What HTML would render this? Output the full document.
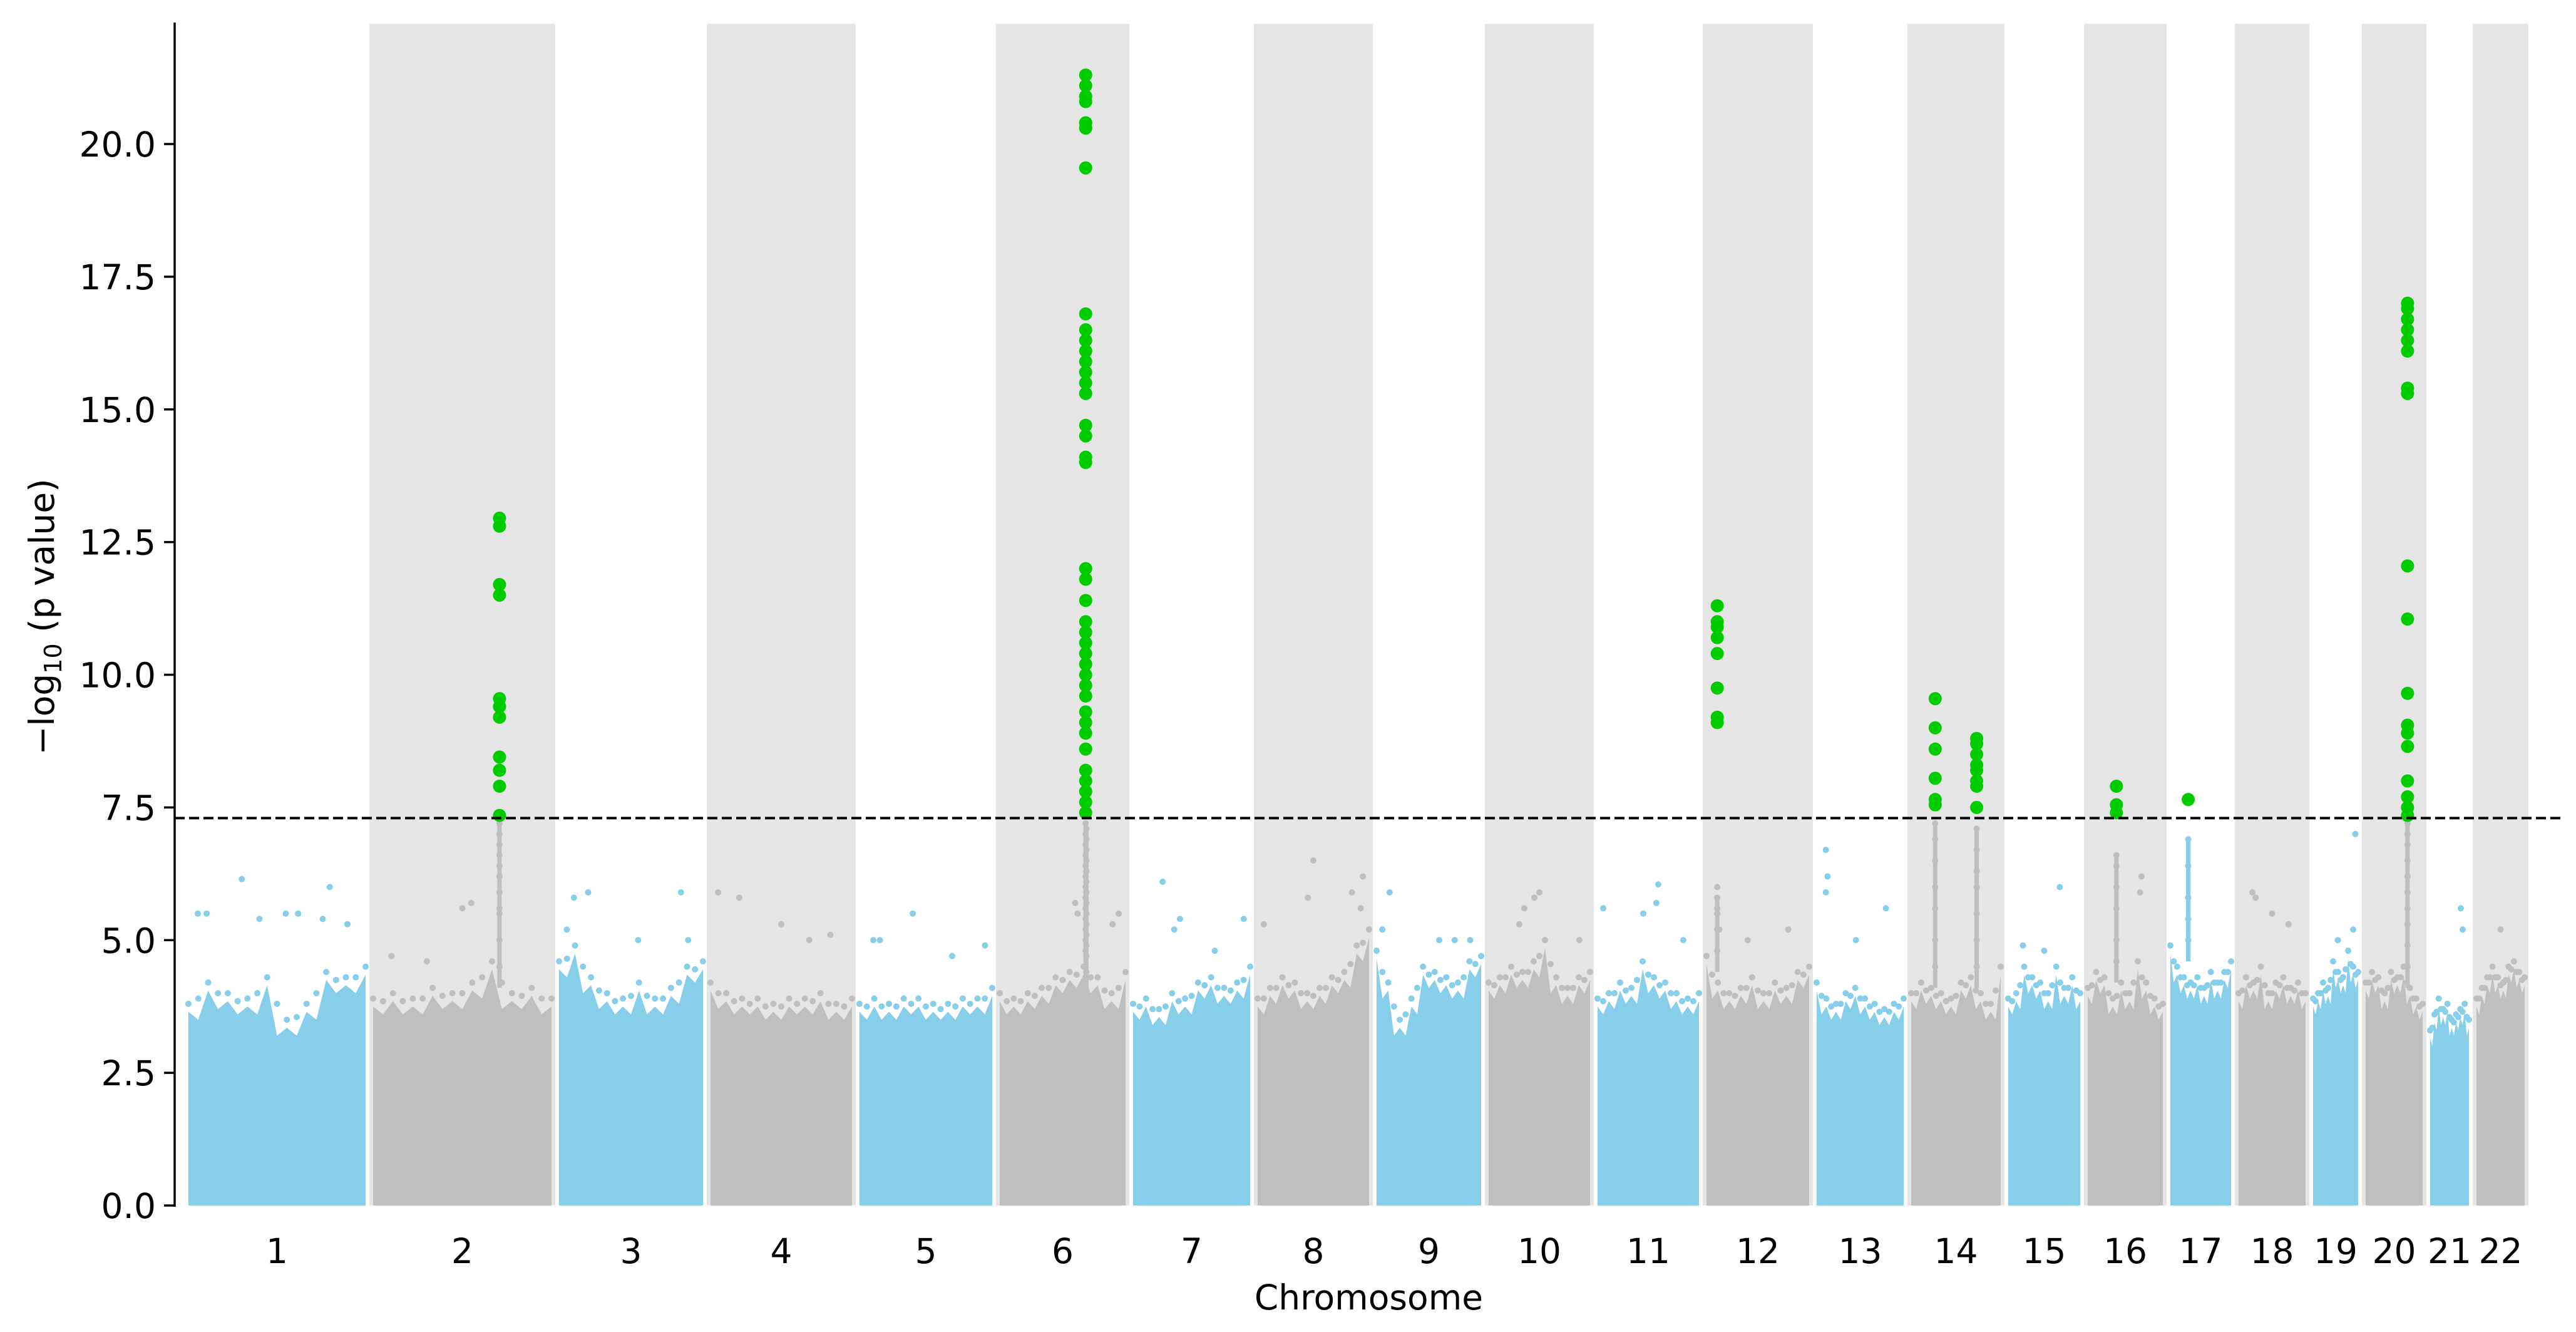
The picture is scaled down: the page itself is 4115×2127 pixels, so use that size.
<!DOCTYPE html>
<html><head><meta charset="utf-8"><style>
html,body{margin:0;padding:0;background:#fff;}
svg{display:block;font-family:"DejaVu Sans","Liberation Sans",sans-serif;}
</style></head><body>
<svg id="chart" width="4115" height="2127" viewBox="0 0 4115 2127" xmlns="http://www.w3.org/2000/svg">
<g id="bands"></g>
<g id="bulk"></g>
<g id="sig"></g>
<g id="axes"></g>
</svg>
<script>
const chroms=['1','2','3','4','5','6','7','8','9','10','11','12','13','14','15','16','17','18','19','20','21','22'];
const chromLengths=[295,297,242,238,224,213,199,190,179,174,174,176,151,155,127,132,109,119,84,103,74,89];
const envelopes=[
[3.8,4.2,4.0,3.9,4.3,3.5,3.8,4.4,4.3,4.5],[3.9,4.0,3.9,4.1,4.0,4.2,4.6,4.0,4.1,3.9],
[4.6,4.9,4.3,4.0,3.9,4.2,3.9,4.1,4.5,4.6],[4.2,4.0,3.9,3.9,3.8,3.9,3.9,4.0,3.8,3.9],
[3.8,3.9,3.8,3.9,3.9,3.8,3.8,3.9,3.9,4.1],[4.0,3.9,4.0,4.1,4.3,4.4,4.5,4.3,4.0,4.4],
[3.8,3.9,3.7,4.0,3.9,4.2,4.3,4.1,4.2,4.5],[3.9,4.1,4.3,4.2,4.0,4.1,4.3,4.4,4.9,5.2],
[4.8,4.2,3.5,3.9,4.5,4.4,4.3,4.2,4.6,4.7],[4.2,4.3,4.5,4.4,4.6,5.0,4.3,4.1,4.3,4.4],
[3.9,4.0,4.2,4.1,4.6,4.3,4.2,4.0,3.9,4.0],[4.7,4.2,4.0,4.1,4.3,4.0,4.2,4.1,4.4,4.5],
[4.2,3.9,3.8,4.0,4.1,3.9,3.8,3.7,3.8,3.9],[4.0,4.2,4.1,4.0,3.9,4.2,4.3,4.0,3.8,4.5],
[3.9,4.0,4.5,4.3,4.2,4.0,4.5,4.1,4.3,4.0],[4.1,4.4,4.3,3.9,4.2,4.0,4.6,4.2,3.9,3.8],
[4.9,4.5,4.3,4.2,4.3,4.1,4.4,4.2,4.4,4.6],[4.0,4.3,4.2,4.5,4.0,4.2,4.3,4.1,4.2,4.0],
[3.9,4.0,4.2,4.1,4.6,4.4,4.3,4.8,4.5,4.4],[4.2,4.4,4.3,4.0,4.4,4.3,4.5,4.1,3.9,3.8],
[3.3,3.6,3.9,3.7,3.8,3.5,3.6,3.7,3.8,3.5],[3.9,4.1,4.3,4.5,4.3,4.2,4.5,4.6,4.4,4.3]];
const outliers=[
[0,0.30,6.15],[0,0.05,5.5],[0,0.10,5.5],[0,0.40,5.4],[0,0.55,5.5],[0,0.62,5.5],[0,0.80,6.0],[0,0.76,5.4],[0,0.90,5.3],
[1,0.10,4.7],[1,0.30,4.6],[1,0.50,5.6],[1,0.55,5.7],
[2,0.05,5.2],[2,0.10,5.8],[2,0.20,5.9],[2,0.55,5.0],[2,0.85,5.9],[2,0.90,5.0],
[3,0.05,5.9],[3,0.20,5.8],[3,0.50,5.3],[3,0.70,5.0],[3,0.85,5.1],
[4,0.10,5.0],[4,0.15,5.0],[4,0.40,5.5],[4,0.70,4.7],[4,0.95,4.9],
[5,0.60,5.7],[5,0.62,5.5],[5,0.95,5.5],[5,0.90,5.3],
[6,0.25,6.1],[6,0.35,5.2],[6,0.40,5.4],[6,0.70,4.8],[6,0.95,5.4],
[7,0.05,5.3],[7,0.45,5.8],[7,0.50,6.5],[7,0.85,5.9],[7,0.95,6.2],[7,0.93,5.6],
[8,0.05,5.2],[8,0.12,5.9],[8,0.60,5.0],[8,0.75,5.0],[8,0.90,5.0],
[9,0.35,5.6],[9,0.45,5.8],[9,0.50,5.9],[9,0.30,5.3],[9,0.90,5.0],
[10,0.05,5.6],[10,0.45,5.5],[10,0.60,6.05],[10,0.58,5.7],[10,0.85,5.0],
[11,0.10,6.0],[11,0.10,5.6],[11,0.12,5.2],[11,0.40,5.0],[11,0.80,5.2],
[12,0.10,6.7],[12,0.12,6.2],[12,0.10,5.9],[12,0.45,5.0],[12,0.80,5.6],
[14,0.20,4.9],[14,0.50,4.8],[14,0.72,6.0],
[15,0.72,6.2],[15,0.70,5.9],
[17,0.20,5.9],[17,0.25,5.8],[17,0.50,5.5],[17,0.75,5.3],
[18,0.55,5.0],[18,0.95,7.0],[18,0.90,5.2],
[20,0.80,5.6],[20,0.85,5.2],[21,0.50,5.2]];
const towerChrom=[1,5,5,13,13,15,16,19,11];
const towerFrac=[0.71,0.685,0.69,0.265,0.735,0.38,0.29,0.74,0.10];
const towerVals=[
[4.5,5.0,5.5,5.6,5.9,6.2,6.4,6.6,6.8,7.0,7.2],
[4.2,4.5,4.8,5.0,5.2,5.4,5.6,5.8,6.0,6.2,6.4,6.6,6.8,7.0,7.2],
[4.4,4.7,4.9,5.1,5.3,5.5,5.7,5.9,6.1,6.3,6.5,6.7,6.9,7.1],
[4.5,5.0,5.6,6.0,6.5,6.9,7.2],
[4.5,5.0,5.5,6.0,6.3,6.7,7.1],
[4.6,5.0,5.6,6.0,6.4,6.6],
[5.0,5.4,5.8,6.4,6.9],
[4.5,4.9,5.3,5.6,5.9,6.2,6.5,6.8,7.0,7.2],
[4.8,5.2,5.5,5.8]];
const sigChrom=[1,5,11,13,13,15,16,19];
const sigFrac=[0.71,0.685,0.10,0.265,0.735,0.38,0.29,0.74];
const sigVals=[
[12.95,12.8,11.7,11.5,9.55,9.4,9.2,8.45,8.2,7.9,7.35],
[21.3,21.1,20.9,20.8,20.4,20.3,19.55,16.8,16.5,16.3,16.1,15.9,15.7,15.5,15.3,14.7,14.5,14.1,14.0,12.0,11.8,11.4,11.0,10.8,10.6,10.4,10.2,10.0,9.8,9.6,9.3,9.1,8.9,8.6,8.2,8.0,7.8,7.6,7.4],
[11.3,11.0,10.9,10.7,10.4,9.75,9.2,9.1],
[9.55,9.0,8.6,8.05,7.65,7.55],
[8.8,8.7,8.5,8.3,8.2,8.0,7.9,7.5],
[7.9,7.55,7.4],
[7.65],
[17.0,16.9,16.7,16.5,16.3,16.1,15.4,15.3,12.05,11.05,9.65,9.05,8.9,8.65,8.0,7.7,7.5,7.35]];
const yTicks=[0,2.5,5,7.5,10,12.5,15,17.5,20];
const threshold=7.3;

const NS='http://www.w3.org/2000/svg';
const X0=295,X1=4039,Y0=1925,PPU=84.75,TOP=36,AX=279;
const total=chromLengths.reduce((a,b)=>a+b,0);
const starts=[];{let c=0;for(const l of chromLengths){starts.push(c);c+=l;}}
function xs(u){return X0+u/total*(X1-X0);}
function ys(v){return Y0-v*PPU;}
function cx(ci,f){const a=xs(starts[ci]),b=xs(starts[ci]+chromLengths[ci]);return a+7+f*(b-a-14);}
function mk(tag,attrs,parent){const e=document.createElementNS(NS,tag);for(const k in attrs)e.setAttribute(k,attrs[k]);parent.appendChild(e);return e;}
const bands=document.getElementById('bands'),bulk=document.getElementById('bulk'),sig=document.getElementById('sig'),axes=document.getElementById('axes');
const BLUE='#87ceeb',GRAY='#bfbfbf';
chroms.forEach((c,i)=>{
  const a=xs(starts[i]),b=xs(starts[i]+chromLengths[i]);
  if(i%2===1){const r=mk('rect',{x:a,y:TOP+2,width:b-a,height:Y0-TOP-2,fill:'#e5e5e5'},bands);
    
    }
  const col=i%2===0?BLUE:GRAY;
  const env=envelopes[i];let pts=[];
  const L=a+6,R=b-6;
  pts.push(L+','+Y0);
  env.forEach((v,k)=>{const x=L+(k/(env.length-1))*(R-L);pts.push(x+','+ys(v-0.15));
    if(k<env.length-1){const x2=L+((k+0.5)/(env.length-1))*(R-L);pts.push(x2+','+ys(Math.min(v,env[k+1])-0.3));}});
  pts.push(R+','+Y0);
  const p=mk('polygon',{points:pts.join(' '),fill:col},bulk);
  
  
  env.forEach((v,k)=>{const x=L+(k/(env.length-1))*(R-L);
    const d=mk('circle',{cx:x,cy:ys(v),r:5,fill:col},bulk);
    
    
    if(k<env.length-1){const x2=L+((k+0.5)/(env.length-1))*(R-L);
      const d2=mk('circle',{cx:x2,cy:ys((v+env[k+1])/2-0.1),r:5,fill:col},bulk);
      
      }});
});
outliers.forEach(o=>{const col=o[0]%2===0?BLUE:GRAY;
  const d=mk('circle',{cx:cx(o[0],o[1]),cy:ys(o[2]),r:5,fill:col},bulk);
  
  });
towerVals.forEach((arr,t)=>{const ci=towerChrom[t],col=ci%2===0?BLUE:GRAY,x=cx(ci,towerFrac[t]);
  arr.forEach(v=>{const d=mk('circle',{cx:x,cy:ys(v),r:5,fill:col},bulk);
    
    });
  const ln=mk('line',{x1:x,x2:x,y1:ys(arr[0]-0.4),y2:ys(arr[arr.length-1]),stroke:col,'stroke-width':7},bulk);
  
  });
sigVals.forEach((arr,s)=>{const x=cx(sigChrom[s],sigFrac[s]);
  arr.forEach(v=>{const d=mk('circle',{cx:x,cy:ys(v),r:10.5,fill:'#00cc00'},sig);
    
    });});
const th=mk('line',{x1:AX,x2:4094,y1:ys(threshold),y2:ys(threshold),stroke:'#000','stroke-width':4,'stroke-dasharray':'16,7'},axes);


const sp=mk('line',{x1:AX,x2:AX,y1:TOP,y2:Y0+2,stroke:'#000','stroke-width':3.5},axes);


yTicks.forEach(v=>{const y=ys(v);
  const t=mk('line',{x1:AX-17,x2:AX,y1:y,y2:y,stroke:'#000','stroke-width':3.5},axes);
  
  
  const tx=mk('text',{x:AX-30,y:y+20,'text-anchor':'end','font-size':55,fill:'#000'},axes);
  tx.textContent=v.toFixed(1);
  
  });
chroms.forEach((c,i)=>{const x=(xs(starts[i])+xs(starts[i]+chromLengths[i]))/2;
  const tx=mk('text',{x:x,y:2017,'text-anchor':'middle','font-size':55,fill:'#000'},axes);
  tx.textContent=c;
  
  });
const xl=mk('text',{x:(AX+4094)/2,y:2091,'text-anchor':'middle','font-size':55,fill:'#000'},axes);
xl.textContent='Chromosome';


const yl=mk('text',{x:0,y:0,'text-anchor':'middle','font-size':55,fill:'#000',transform:'translate(86,985) rotate(-90)'},axes);
yl.innerHTML='\u2212log<tspan font-size="38" dy="12">10</tspan><tspan dy="-12"> (p value)</tspan>';


</script>
</body></html>
